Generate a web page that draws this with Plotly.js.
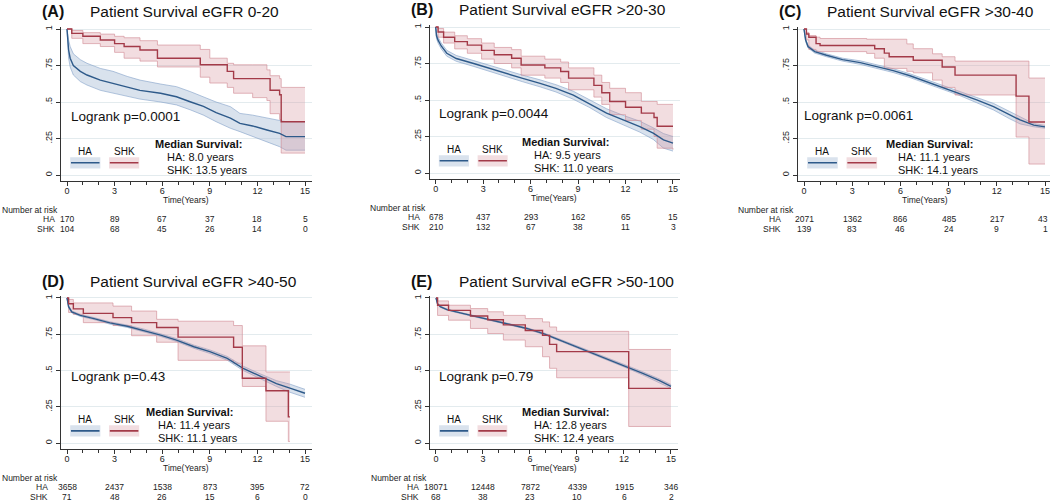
<!DOCTYPE html>
<html>
<head>
<meta charset="utf-8">
<script src="https://cdn.plot.ly/plotly-3.0.1.min.js"></script>
<style>
  html, body { margin: 0; padding: 0; background: #fff; }
  #chart { width: 1050px; height: 502px; }
</style>
</head>
<body>
<div id="chart"></div>
<script>
const W = 1050, H = 502;

// ---- labels ----
const tags = ['(A)', '(B)', '(C)', '(D)', '(E)'];
const titles = ['Patient Survival eGFR 0-20', 'Patient Survival eGFR >20-30', 'Patient Survival eGFR >30-40',
                'Patient Survival eGFR >40-50', 'Patient Survival eGFR >50-100'];
const logrank = ['Logrank p=0.0001', 'Logrank p=0.0044', 'Logrank p=0.0061', 'Logrank p=0.43', 'Logrank p=0.79'];
const medianHA = ['8.0', '9.5', '11.1', '11.4', '12.8'];
const medianSHK = ['13.5', '11.0', '14.1', '11.1', '12.4'];
const years = [0, 3, 6, 9, 12, 15];
const yTickVals = [0, 0.25, 0.5, 0.75, 1];
const yTickText = ['0', '.25', '.5', '.75', '1'];

// ---- number at risk ----
const riskHA = [[170, 89, 67, 37, 18, 5], [678, 437, 293, 162, 65, 15], [2071, 1362, 866, 485, 217, 43],
                [3658, 2437, 1538, 873, 395, 72], [18071, 12448, 7872, 4339, 1915, 346]];
const riskSHK = [[104, 68, 45, 26, 14, 0], [210, 132, 67, 38, 11, 3], [139, 83, 46, 24, 9, 1],
                 [71, 48, 26, 15, 6, 0], [68, 38, 23, 10, 6, 2]];

// ---- A: eGFR 0-20 ----
const haTimeA = [0, 0.05, 0.1, 0.2, 0.4, 0.84, 1.26, 2.1, 2.9, 3.8, 4.6, 5.9, 6.9, 7.8, 8.6, 9.4, 10.3, 10.9, 11.7, 12.6, 13.4, 13.8, 15];
const haSurvA = [1, 0.90, 0.856, 0.80, 0.75, 0.71, 0.685, 0.65, 0.628, 0.60, 0.58, 0.56, 0.536, 0.50, 0.47, 0.427, 0.39, 0.354, 0.336, 0.308, 0.285, 0.263, 0.263];
const haLowA = [1, 0.84, 0.80, 0.74, 0.685, 0.64, 0.616, 0.58, 0.56, 0.536, 0.52, 0.50, 0.48, 0.445, 0.41, 0.365, 0.32, 0.297, 0.263, 0.228, 0.194, 0.17, 0.17];
const haHighA = [1, 0.95, 0.925, 0.88, 0.83, 0.79, 0.765, 0.73, 0.71, 0.675, 0.65, 0.623, 0.605, 0.57, 0.536, 0.50, 0.468, 0.422, 0.41, 0.39, 0.377, 0.365, 0.365];
const shkTimeA = [0, 0.3, 1.0, 2.1, 3.0, 3.6, 4.6, 5.7, 8.4, 9.0, 10.1, 10.5, 11.7, 12.6, 12.8, 13.4, 13.5, 15];
const shkSurvA = [1, 0.97, 0.95, 0.925, 0.90, 0.88, 0.856, 0.80, 0.755, 0.755, 0.71, 0.66, 0.66, 0.66, 0.58, 0.55, 0.365, 0.365];
const shkLowA = [1, 0.936, 0.90, 0.88, 0.84, 0.80, 0.78, 0.74, 0.67, 0.63, 0.60, 0.56, 0.53, 0.51, 0.42, 0.38, 0.15, 0.15];
const shkHighA = [1, 0.99, 0.975, 0.965, 0.95, 0.94, 0.92, 0.89, 0.86, 0.80, 0.765, 0.755, 0.755, 0.72, 0.68, 0.66, 0.60, 0.60];

// ---- B: eGFR >20-30 ----
const haTimeB = [0, 0.05, 0.15, 0.35, 0.7, 1.3, 2.4, 3.4, 4.5, 5.5, 6.6, 7.6, 8.7, 9.7, 10.8, 11.85, 12.9, 13.75, 14.4, 15];
const haSurvB = [1, 0.94, 0.91, 0.87, 0.82, 0.784, 0.75, 0.716, 0.68, 0.648, 0.614, 0.58, 0.534, 0.477, 0.41, 0.364, 0.318, 0.273, 0.227, 0.205];
const haLowB = [1, 0.92, 0.89, 0.85, 0.80, 0.765, 0.73, 0.695, 0.66, 0.625, 0.59, 0.555, 0.505, 0.45, 0.38, 0.33, 0.28, 0.23, 0.17, 0.15];
const haHighB = [1, 0.96, 0.93, 0.89, 0.84, 0.805, 0.77, 0.737, 0.70, 0.67, 0.638, 0.605, 0.56, 0.505, 0.44, 0.395, 0.355, 0.31, 0.27, 0.25];
const shkTimeB = [0, 0.15, 0.5, 1.2, 2.0, 2.9, 3.7, 4.8, 5.4, 6.9, 7.9, 8.4, 10.0, 10.5, 11.0, 12.0, 13.0, 13.8, 14.0, 15];
const shkSurvB = [1, 0.966, 0.93, 0.90, 0.876, 0.84, 0.81, 0.786, 0.74, 0.72, 0.695, 0.65, 0.60, 0.55, 0.49, 0.45, 0.41, 0.38, 0.32, 0.32];
const shkLowB = [1, 0.93, 0.89, 0.85, 0.82, 0.78, 0.75, 0.72, 0.67, 0.65, 0.62, 0.57, 0.52, 0.47, 0.40, 0.36, 0.30, 0.25, 0.17, 0.16];
const shkHighB = [1, 0.99, 0.965, 0.94, 0.92, 0.89, 0.86, 0.845, 0.80, 0.78, 0.76, 0.72, 0.67, 0.62, 0.58, 0.55, 0.49, 0.49, 0.47, 0.47];

// ---- C: eGFR >30-40 ----
const haTimeC = [0, 0.1, 0.25, 0.67, 1.4, 2.4, 3.5, 4.5, 5.55, 6.6, 7.6, 8.7, 9.7, 10.75, 11.8, 12.8, 13.45, 14.3, 15];
const haSurvC = [1, 0.925, 0.88, 0.845, 0.82, 0.79, 0.77, 0.742, 0.715, 0.68, 0.64, 0.60, 0.56, 0.514, 0.468, 0.41, 0.377, 0.342, 0.33];
const haLowC = [1, 0.915, 0.87, 0.835, 0.81, 0.78, 0.758, 0.73, 0.702, 0.667, 0.626, 0.585, 0.544, 0.495, 0.445, 0.385, 0.35, 0.33, 0.32];
const haHighC = [1, 0.935, 0.89, 0.855, 0.83, 0.80, 0.782, 0.754, 0.728, 0.693, 0.654, 0.615, 0.576, 0.533, 0.49, 0.435, 0.40, 0.352, 0.34];
const shkTimeC = [0, 0.15, 0.3, 0.75, 1.0, 3.9, 4.4, 5.0, 5.3, 6.4, 6.8, 8.0, 8.6, 9.4, 13.2, 14.0, 15];
const shkSurvC = [1, 0.966, 0.944, 0.90, 0.887, 0.887, 0.865, 0.835, 0.81, 0.81, 0.786, 0.786, 0.74, 0.684, 0.54, 0.363, 0.363];
const shkLowC = [1, 0.925, 0.86, 0.845, 0.845, 0.833, 0.80, 0.73, 0.73, 0.71, 0.70, 0.65, 0.60, 0.548, 0.26, 0.075, 0.075];
const shkHighC = [1, 0.977, 0.955, 0.944, 0.935, 0.93, 0.93, 0.93, 0.93, 0.898, 0.865, 0.83, 0.81, 0.78, 0.78, 0.664, 0.664];

// ---- D: eGFR >40-50 ----
const haTimeD = [0, 0.1, 0.3, 0.84, 1.7, 2.7, 3.8, 4.8, 5.9, 6.9, 8.0, 9.0, 10.1, 11.1, 12.2, 13.2, 14.05, 15];
const haSurvD = [1, 0.94, 0.904, 0.88, 0.858, 0.828, 0.805, 0.778, 0.744, 0.71, 0.664, 0.63, 0.584, 0.515, 0.458, 0.41, 0.378, 0.343];
const haLowD = [1, 0.933, 0.897, 0.873, 0.851, 0.82, 0.797, 0.769, 0.735, 0.70, 0.653, 0.618, 0.571, 0.50, 0.44, 0.39, 0.35, 0.315];
const haHighD = [1, 0.947, 0.911, 0.887, 0.865, 0.836, 0.813, 0.787, 0.753, 0.72, 0.675, 0.642, 0.597, 0.53, 0.476, 0.43, 0.406, 0.37];
const shkTimeD = [0, 0.1, 0.4, 1.03, 2.9, 4.07, 5.65, 7.0, 10.5, 11.05, 12.54, 13.95, 14.05];
const shkSurvD = [1, 0.96, 0.925, 0.894, 0.865, 0.83, 0.797, 0.73, 0.66, 0.447, 0.36, 0.18, 0.18];
const shkLowD = [1, 0.90, 0.887, 0.83, 0.81, 0.74, 0.695, 0.57, 0.55, 0.39, 0.15, 0.01, 0.01];
const shkHighD = [1, 0.99, 0.966, 0.966, 0.944, 0.91, 0.853, 0.84, 0.81, 0.67, 0.49, 0.49, 0.49];

// ---- E: eGFR >50-100 ----
const haTimeE = [0, 0.1, 0.27, 0.7, 1.55, 2.6, 3.7, 4.7, 5.8, 6.9, 7.9, 9.0, 10.05, 11.1, 12.2, 13.2, 14.3, 15];
const haSurvE = [1, 0.96, 0.94, 0.92, 0.897, 0.87, 0.847, 0.82, 0.79, 0.753, 0.71, 0.664, 0.618, 0.572, 0.526, 0.48, 0.428, 0.39];
const haLowE = [1, 0.957, 0.936, 0.916, 0.893, 0.866, 0.843, 0.815, 0.785, 0.747, 0.704, 0.657, 0.61, 0.563, 0.516, 0.469, 0.416, 0.377];
const haHighE = [1, 0.963, 0.944, 0.924, 0.901, 0.874, 0.851, 0.825, 0.795, 0.759, 0.716, 0.671, 0.626, 0.581, 0.536, 0.491, 0.44, 0.403];
const shkTimeE = [0, 0.1, 0.8, 2.2, 3.3, 4.3, 5.7, 6.8, 7.25, 7.7, 12.3, 15];
const shkSurvE = [1, 0.95, 0.915, 0.876, 0.85, 0.815, 0.776, 0.742, 0.68, 0.63, 0.377, 0.377];
const shkLowE = [1, 0.88, 0.847, 0.79, 0.755, 0.71, 0.664, 0.595, 0.515, 0.45, 0.114, 0.114];
const shkHighE = [1, 0.98, 0.95, 0.927, 0.905, 0.88, 0.858, 0.835, 0.80, 0.77, 0.645, 0.645];

const panels = [
  {ha: [haTimeA, haSurvA, haLowA, haHighA], shk: [shkTimeA, shkSurvA, shkLowA, shkHighA]},
  {ha: [haTimeB, haSurvB, haLowB, haHighB], shk: [shkTimeB, shkSurvB, shkLowB, shkHighB]},
  {ha: [haTimeC, haSurvC, haLowC, haHighC], shk: [shkTimeC, shkSurvC, shkLowC, shkHighC]},
  {ha: [haTimeD, haSurvD, haLowD, haHighD], shk: [shkTimeD, shkSurvD, shkLowD, shkHighD]},
  {ha: [haTimeE, haSurvE, haLowE, haHighE], shk: [shkTimeE, shkSurvE, shkLowE, shkHighE]},
];

// pixel frame of each panel: x of t=0 / t=15, y of S=1 / S=0
const frames = [
  {x0: 67, x15: 305, y1: 29, y0: 175, logX: 0.13, logY: 0.40, medX: 5.42, riskLab: -0.6},
  {x0: 435.7, x15: 673, y1: 27, y0: 173, logX: 0.06, logY: 0.405, medX: 5.33, riskLab: -0.85},
  {x0: 804, x15: 1045, y1: 29, y0: 175, logX: -0.1, logY: 0.41, medX: 4.99, riskLab: -1.3},
  {x0: 67, x15: 305, y1: 298, y0: 443, logX: 0.15, logY: 0.46, medX: 4.88, riskLab: -1.05},
  {x0: 436, x15: 671, y1: 298, y0: 443, logX: 0.06, logY: 0.46, medX: 5.37, riskLab: -0.95},
];

const FONT = 'Liberation Sans, Arial, sans-serif';
const haLine = '#2e5a8a', haFill = 'rgba(170,190,215,0.45)', haEdge = 'rgba(130,160,200,0.75)';
const shkLine = '#a33a48', shkFill = 'rgba(215,150,160,0.32)', shkEdge = 'rgba(210,140,150,0.8)';

const yP = px => 1 - px / H;

const data = [];
const layout = {
  width: W, height: H,
  margin: {l: 0, r: 0, t: 0, b: 0},
  paper_bgcolor: '#fff', plot_bgcolor: '#fff',
  showlegend: false,
  font: {family: FONT, color: '#111'},
  annotations: [], shapes: []
};

// every text is anchored explicitly (plotly's 'auto' anchors shift paper texts)
function txt(o) {
  layout.annotations.push(Object.assign({xanchor: 'center', yanchor: 'middle', showarrow: false}, o));
}

panels.forEach((p, i) => {
  const f = frames[i];
  const s = i === 0 ? '' : String(i + 1);
  const xa = 'x' + s, ya = 'y' + s;
  const kx = (f.x15 - f.x0) / 15, ky = f.y0 - f.y1;
  const left = f.x0 - 0.38 * kx;
  const right = Math.min(W, f.x0 + 15.44 * kx);
  const bottom = f.y0 + 0.041 * ky, top = f.y1 - 0.015 * ky;
  const xP = t => (f.x0 + t * kx) / W;   // time -> paper, for texts outside the axis range

  layout['xaxis' + s] = {
    domain: [left / W, right / W], range: [(left - f.x0) / kx, (right - f.x0) / kx],
    anchor: ya, tickmode: 'linear', tick0: 0, dtick: 3,
    ticks: 'outside', ticklen: 4, tickcolor: '#333', tickwidth: 1,
    ticklabelstandoff: -3, ticklabeloverflow: 'allow',
    minor: {tick0: 0, dtick: 1, ticks: 'outside', ticklen: 3, tickcolor: '#333', showgrid: false},
    showline: true, linecolor: '#333', linewidth: 1, showgrid: false, zeroline: false,
    tickfont: {size: 9, color: '#222'}, fixedrange: true
  };
  layout['yaxis' + s] = {
    domain: [yP(bottom), yP(top)], range: [-0.041, 1.015], anchor: xa,
    tickmode: 'array', tickvals: yTickVals, ticktext: yTickText, tickangle: -90,
    ticks: 'outside', ticklen: 4, tickcolor: '#333',
    showline: true, linecolor: '#333', linewidth: 1,
    showgrid: true, gridcolor: '#e3ebee', gridwidth: 1, zeroline: false,
    tickfont: {size: 9, color: '#222'}, fixedrange: true
  };

  const band = (g, fill, edge, shape) => {
    data.push({x: g[0], y: g[2], xaxis: xa, yaxis: ya, mode: 'lines',
               line: {color: edge, width: 0.8, shape: shape}, hoverinfo: 'skip'});
    data.push({x: g[0], y: g[3], xaxis: xa, yaxis: ya, mode: 'lines', fill: 'tonexty', fillcolor: fill,
               line: {color: edge, width: 0.8, shape: shape}, hoverinfo: 'skip'});
  };
  band(p.ha, haFill, haEdge, 'linear');
  band(p.shk, shkFill, shkEdge, 'hv');
  data.push({x: p.ha[0], y: p.ha[1], xaxis: xa, yaxis: ya, mode: 'lines', name: 'HA',
             line: {color: haLine, width: 1.4}});
  data.push({x: p.shk[0], y: p.shk[1], xaxis: xa, yaxis: ya, mode: 'lines', name: 'SHK',
             line: {color: shkLine, width: 1.4, shape: 'hv'}});

  // titles
  txt({xref: 'paper', yref: 'paper', x: (f.x0 - 27) / W, y: yP(f.y1 - 17), xanchor: 'left',
       text: '<b>' + tags[i] + '</b>', font: {size: 16, color: '#111'}});
  txt({xref: 'paper', yref: 'paper', x: (f.x0 + 21) / W, y: yP(f.y1 - 17), xanchor: 'left',
       text: titles[i], font: {size: 15.5, color: '#111'}});
  // logrank
  txt({xref: xa, yref: ya, x: f.logX, y: f.logY, xanchor: 'left',
       text: logrank[i], font: {size: 13.5, color: '#111'}});
  // median survival
  txt({xref: xa, yref: ya, x: f.medX, y: 0.215, xanchor: 'left',
       text: '<b>Median Survival:</b>', font: {size: 11, color: '#111'}});
  txt({xref: xa, yref: ya, x: f.medX + 0.75, y: 0.125, xanchor: 'left',
       text: 'HA: ' + medianHA[i] + ' years', font: {size: 11, color: '#111'}});
  txt({xref: xa, yref: ya, x: f.medX + 0.75, y: 0.037, xanchor: 'left',
       text: 'SHK: ' + medianSHK[i] + ' years', font: {size: 11, color: '#111'}});
  // legend keys
  [['HA', 0.2, haFill, haLine], ['SHK', 2.65, shkFill, shkLine]].forEach(([lab, x, fill, col]) => {
    layout.shapes.push({type: 'rect', xref: xa, yref: ya, x0: x, x1: x + 1.9, y0: 0.045, y1: 0.122,
                        fillcolor: fill, line: {width: 0}});
    layout.shapes.push({type: 'line', xref: xa, yref: ya, x0: x + 0.05, x1: x + 1.85, y0: 0.084, y1: 0.084,
                        line: {color: col, width: 1.6}});
    txt({xref: xa, yref: ya, x: x + 0.95, y: 0.16, text: lab, font: {size: 10, color: '#111'}});
  });
  // axis title
  txt({xref: 'paper', yref: 'paper', x: xP(7.5), y: yP(f.y0 + 24.5),
       text: 'Time(Years)', font: {size: 8.5, color: '#222'}});
  // number at risk table
  txt({xref: 'paper', yref: 'paper', x: xP(-4.25), y: yP(f.y0 + 34.5), xanchor: 'left',
       text: 'Number at risk', font: {size: 8.5, color: '#222'}});
  [['HA', riskHA[i], 44], ['SHK', riskSHK[i], 53.5]].forEach(([lab, vals, dy]) => {
    txt({xref: 'paper', yref: 'paper', x: xP(f.riskLab), y: yP(f.y0 + dy), xanchor: 'right',
         text: lab, font: {size: 8.5, color: '#222'}});
    vals.forEach((v, j) => {
      const edge = f.x0 + years[j] * kx > W - 8;
      txt({xref: 'paper', yref: 'paper', x: edge ? 1 : xP(years[j]), y: yP(f.y0 + dy),
           xanchor: edge ? 'right' : 'center', text: String(v), font: {size: 8.5, color: '#222'}});
    });
  });
});

Plotly.newPlot('chart', data, layout, {staticPlot: true, displayModeBar: false});
</script>
</body>
</html>
